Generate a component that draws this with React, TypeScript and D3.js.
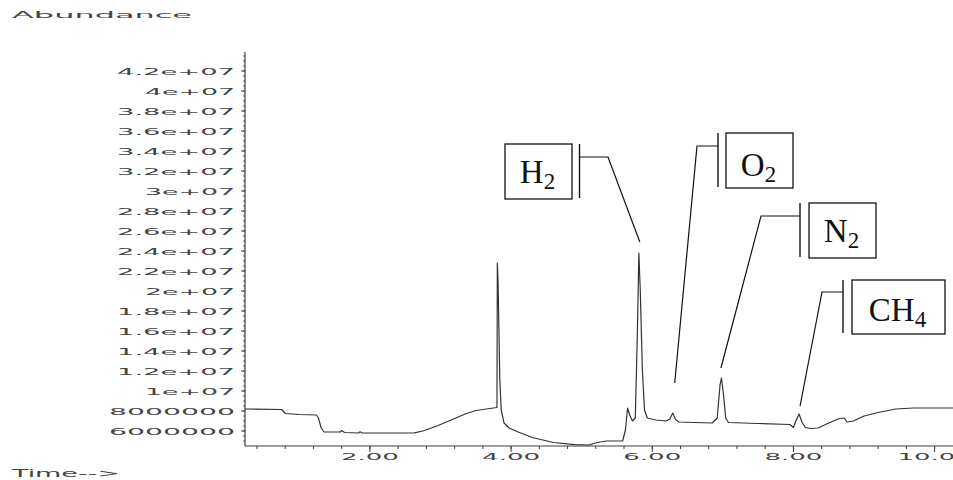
import React from 'react';
import * as d3 from 'd3';

const W = 953;
const H = 480;

// Total ion chromatogram trace (retention time in minutes, abundance in counts)
const retentionTime = [
  0.23, 0.75, 0.8, 1.0, 1.24, 1.27, 1.31, 1.35, 1.58, 1.6, 1.64, 1.84, 1.86, 1.89,
  2.2, 2.63, 2.75, 2.95, 3.15, 3.35, 3.5, 3.65, 3.8, 3.805, 3.815, 3.84, 3.86, 3.9,
  3.97, 4.1, 4.3, 4.6, 4.9, 5.1, 5.22, 5.35, 5.45, 5.58, 5.62, 5.65, 5.68, 5.72,
  5.76, 5.79, 5.81, 5.83, 5.86, 5.89, 5.93, 6.05, 6.2, 6.25, 6.29, 6.33, 6.38, 6.6,
  6.85, 6.92, 6.96, 6.98, 7.01, 7.04, 7.08, 7.5, 7.95, 8.0, 8.04, 8.08, 8.12, 8.17,
  8.25, 8.35, 8.5, 8.65, 8.72, 8.76, 8.85, 9.0, 9.2, 9.45, 9.7, 10.36,
];
const abundance = [
  8.2e6, 8.15e6, 7.75e6, 7.65e6, 7.6e6, 7.3e6, 6.3e6, 5.9e6, 5.9e6, 6.05e6, 5.85e6, 5.8e6, 5.92e6, 5.8e6,
  5.8e6, 5.82e6, 6.0e6, 6.5e6, 7.1e6, 7.7e6, 8.05e6, 8.2e6, 8.35e6, 22.8e6, 21.0e6, 11.1e6, 8.1e6, 6.8e6,
  6.3e6, 5.9e6, 5.35e6, 4.85e6, 4.63e6, 4.6e6, 4.85e6, 5.0e6, 5.0e6, 5.0e6, 6.1e6, 8.3e6, 7.6e6, 7.0e6,
  7.3e6, 16.1e6, 23.8e6, 20.1e6, 12.1e6, 8.1e6, 7.3e6, 7.1e6, 7.0e6, 7.2e6, 7.8e6, 7.15e6, 6.9e6, 6.85e6,
  6.8e6, 7.3e6, 10.6e6, 11.3e6, 9.6e6, 7.3e6, 6.85e6, 6.75e6, 6.65e6, 6.35e6, 7.1e6, 7.7e6, 6.9e6, 6.35e6,
  6.25e6, 6.3e6, 6.8e6, 7.25e6, 7.3e6, 6.9e6, 7.0e6, 7.5e6, 7.85e6, 8.2e6, 8.3e6, 8.3e6,
];

const yTickValues = [
  6e6, 8e6, 10e6, 12e6, 14e6, 16e6, 18e6, 20e6, 22e6, 24e6,
  26e6, 28e6, 30e6, 32e6, 34e6, 36e6, 38e6, 40e6, 42e6,
];
const yTickLabels = [
  '6000000', '8000000', '1e+07', '1.2e+07', '1.4e+07', '1.6e+07', '1.8e+07', '2e+07', '2.2e+07', '2.4e+07',
  '2.6e+07', '2.8e+07', '3e+07', '3.2e+07', '3.4e+07', '3.6e+07', '3.8e+07', '4e+07', '4.2e+07',
];
const xTickValues = [2, 4, 6, 8, 10];
const xTickLabels = ['2.00', '4.00', '6.00', '8.00', '10.00'];

// Identified peaks
const peakSymbols = ['H', 'O', 'N', 'CH'];
const peakSubscripts = ['2', '2', '2', '4'];
const peakTimes = [5.81, 6.29, 6.98, 8.08];
const peakHeights = [23.8e6, 7.8e6, 11.3e6, 7.7e6];

// Callout placement: box, flag bar, elbow of the leader, gap above the peak
const callouts = [
  { bx: 505, by: 144, bw: 67, bh: 55, barX: 579.5, elbowX: 608, elbowY: 157, base: 39, gap: 11, dx: 1 },
  { bx: 726, by: 133, bw: 67, bh: 55, barX: 718, elbowX: 697, elbowY: 146, base: 43, gap: 30, dx: 2 },
  { bx: 809, by: 203, bw: 67, bh: 55, barX: 800, elbowX: 761, elbowY: 216, base: 38.5, gap: 10, dx: -0.5 },
  { bx: 852, by: 280, bw: 93, bh: 54, barX: 843, elbowX: 822, elbowY: 292, base: 40.5, gap: 8, dx: 1 },
];

const x = d3.scaleLinear().domain([0.23, 10.36]).range([245, 960]);
const y = d3.scaleLinear().domain([4.5e6, 43.9e6]).range([446, 52]);

const axisFont = '"DejaVu Sans", sans-serif';
const axisColor = '#3c3c3c';

// Width of a stretched axis label: narrow for '.', wide for everything else
const stretchedWidth = (s: string, wide: number, narrow: number) =>
  s.split('').reduce((acc, ch) => acc + (ch === '.' ? narrow : wide), 0);

export default function App() {
  const points = retentionTime.map((t, i) => [t, abundance[i]] as [number, number]);
  const line = d3
    .line<[number, number]>()
    .x((d) => x(d[0]))
    .y((d) => y(d[1]));

  const [y0, y1] = y.domain();
  const yMinor = d3.range(5e6, y1, 5e5);
  const xMinor = d3.range(0.4, 10.36, 0.4);
  const axisBottom = y(y0);
  const axisLeft = x(x.domain()[0]);

  return (
    <svg
      width={W}
      height={H}
      viewBox={`0 0 ${W} ${H}`}
      style={{ position: 'absolute', left: 0, top: 0, background: '#fff' }}
    >
      <rect x={0} y={0} width={W} height={H} fill="#fff" />

      <text
        x={12}
        y={17.5}
        fontFamily={axisFont}
        fontSize={9}
        fill="#444"
        textLength={180}
        lengthAdjust="spacingAndGlyphs"
      >
        Abundance
      </text>
      <text
        x={12}
        y={476.5}
        fontFamily={axisFont}
        fontSize={10}
        fill="#444"
        textLength={108}
        lengthAdjust="spacingAndGlyphs"
      >
        Time--&gt;
      </text>

      {/* y axis */}
      <line x1={axisLeft} x2={axisLeft} y1={y(y1)} y2={axisBottom} stroke={axisColor} strokeWidth={1.2} />
      {yMinor.map((v, i) => (
        <line key={`ym${i}`} x1={axisLeft - 2} x2={axisLeft} y1={y(v)} y2={y(v)} stroke={axisColor} strokeWidth={0.8} />
      ))}
      {yTickValues.map((v, i) => (
        <g key={`yt${i}`}>
          <line x1={axisLeft - 4} x2={axisLeft} y1={y(v)} y2={y(v)} stroke={axisColor} strokeWidth={1} />
          <text
            x={235}
            y={y(v) + 3.5}
            textAnchor="end"
            fontFamily={axisFont}
            fontSize={8}
            fill="#444"
            textLength={stretchedWidth(yTickLabels[i], 18, 10)}
            lengthAdjust="spacingAndGlyphs"
          >
            {yTickLabels[i]}
          </text>
        </g>
      ))}

      {/* x axis */}
      <line x1={axisLeft} x2={W + 10} y1={axisBottom} y2={axisBottom} stroke={axisColor} strokeWidth={1.2} />
      {xMinor.map((t, i) => (
        <line key={`xm${i}`} x1={x(t)} x2={x(t)} y1={axisBottom} y2={axisBottom + 3} stroke={axisColor} strokeWidth={1} />
      ))}
      {xTickValues.map((t, i) => (
        <g key={`xt${i}`}>
          <line x1={x(t)} x2={x(t)} y1={axisBottom} y2={axisBottom + 6} stroke={axisColor} strokeWidth={1} />
          <text
            x={x(t)}
            y={460}
            textAnchor="middle"
            fontFamily={axisFont}
            fontSize={8}
            fill="#444"
            textLength={stretchedWidth(xTickLabels[i], 16, 10)}
            lengthAdjust="spacingAndGlyphs"
          >
            {xTickLabels[i]}
          </text>
        </g>
      ))}

      {/* chromatogram */}
      <path d={line(points) ?? ''} fill="none" stroke="#333" strokeWidth={1.2} strokeLinejoin="round" />

      {/* peak callouts */}
      {callouts.map((c, i) => {
        const endX = x(peakTimes[i]) + c.dx;
        const endY = y(peakHeights[i]) - c.gap;
        return (
          <g key={`pk${i}`}>
            <rect x={c.bx} y={c.by} width={c.bw} height={c.bh} fill="#fff" stroke="#111" strokeWidth={1.3} />
            <line x1={c.barX} x2={c.barX} y1={c.by} y2={c.by + c.bh - 1} stroke="#111" strokeWidth={1.4} />
            <polyline
              points={`${c.barX},${c.elbowY} ${c.elbowX},${c.elbowY} ${endX},${endY}`}
              fill="none"
              stroke="#111"
              strokeWidth={1.2}
            />
            <text
              x={c.bx + c.bw / 2 - 1}
              y={c.by + c.base}
              textAnchor="middle"
              fontFamily='"Liberation Serif", "Times New Roman", serif'
              fontSize={33}
              fill="#111"
            >
              {peakSymbols[i]}
              <tspan fontSize={23} dy={6}>
                {peakSubscripts[i]}
              </tspan>
            </text>
          </g>
        );
      })}
    </svg>
  );
}
